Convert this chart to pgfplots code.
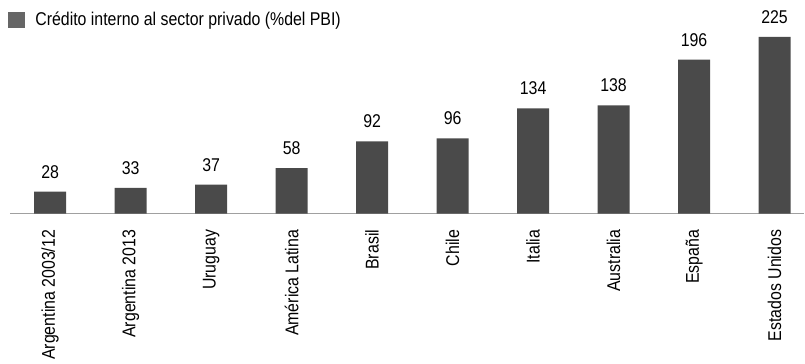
\documentclass[border=0pt]{standalone}
\usepackage{fontspec}
\setmainfont{Liberation Sans}[FakeStretch=0.86]
\usepackage{pgfplots}
\pgfplotsset{compat=1.18}

\definecolor{bargray}{HTML}{4A4A4A}
\definecolor{keygray}{HTML}{666666}
\definecolor{axgray}{HTML}{A0A0A0}

\newcommand{\chartfont}{\fontsize{18.5bp}{21bp}\selectfont}

\begin{document}
\begin{tikzpicture}
\begin{axis}[
  x=80.6bp, y=0.787bp,
  xmin=-0.5, xmax=9.37,
  ymin=0, ymax=272,
  clip=false,
  hide y axis,
  axis x line=bottom,
  x axis line style={-, draw=axgray, line width=1.4bp},
  xtick={0,...,9},
  xticklabels={Argentina 2003/12, Argentina 2013, Uruguay, América Latina, Brasil, Chile, Italia, Australia, España, Estados Unidos},
  major tick length=0pt,
  xticklabel shift=16bp,
  xticklabel style={rotate=90, anchor=east, inner sep=0pt, font=\chartfont},
  /pgf/number format/assume math mode=true,
  nodes near coords,
  every node near coord/.append style={anchor=base, inner sep=0pt, yshift=13.5bp, font=\chartfont, text=black},
  legend style={draw=none, fill=none, inner sep=0pt, outer sep=0pt,
    at={(axis description cs:0,1)}, anchor=north west,
    xshift=-2bp, yshift=-10bp, font=\chartfont,
    /tikz/every even column/.append style={column sep=0bp}},
  legend cell align=left,
]
\addplot[ybar, bar width=32bp, fill=bargray, draw=none, forget plot]
  coordinates {(0,28) (1,33) (2,37) (3,58) (4,92) (5,96) (6,134) (7,138) (8,196) (9,225)};

\addlegendimage{legend image code/.code={\fill[keygray] (0bp,-7.5bp) rectangle (16bp,7.5bp);}}
\addlegendentry{\hspace{9bp}Crédito interno al sector privado (\%del PBI)}

% page frame
\path (axis cs:-0.624,272) rectangle (axis cs:9.37,-190.6);
\end{axis}
\end{tikzpicture}
\end{document}
